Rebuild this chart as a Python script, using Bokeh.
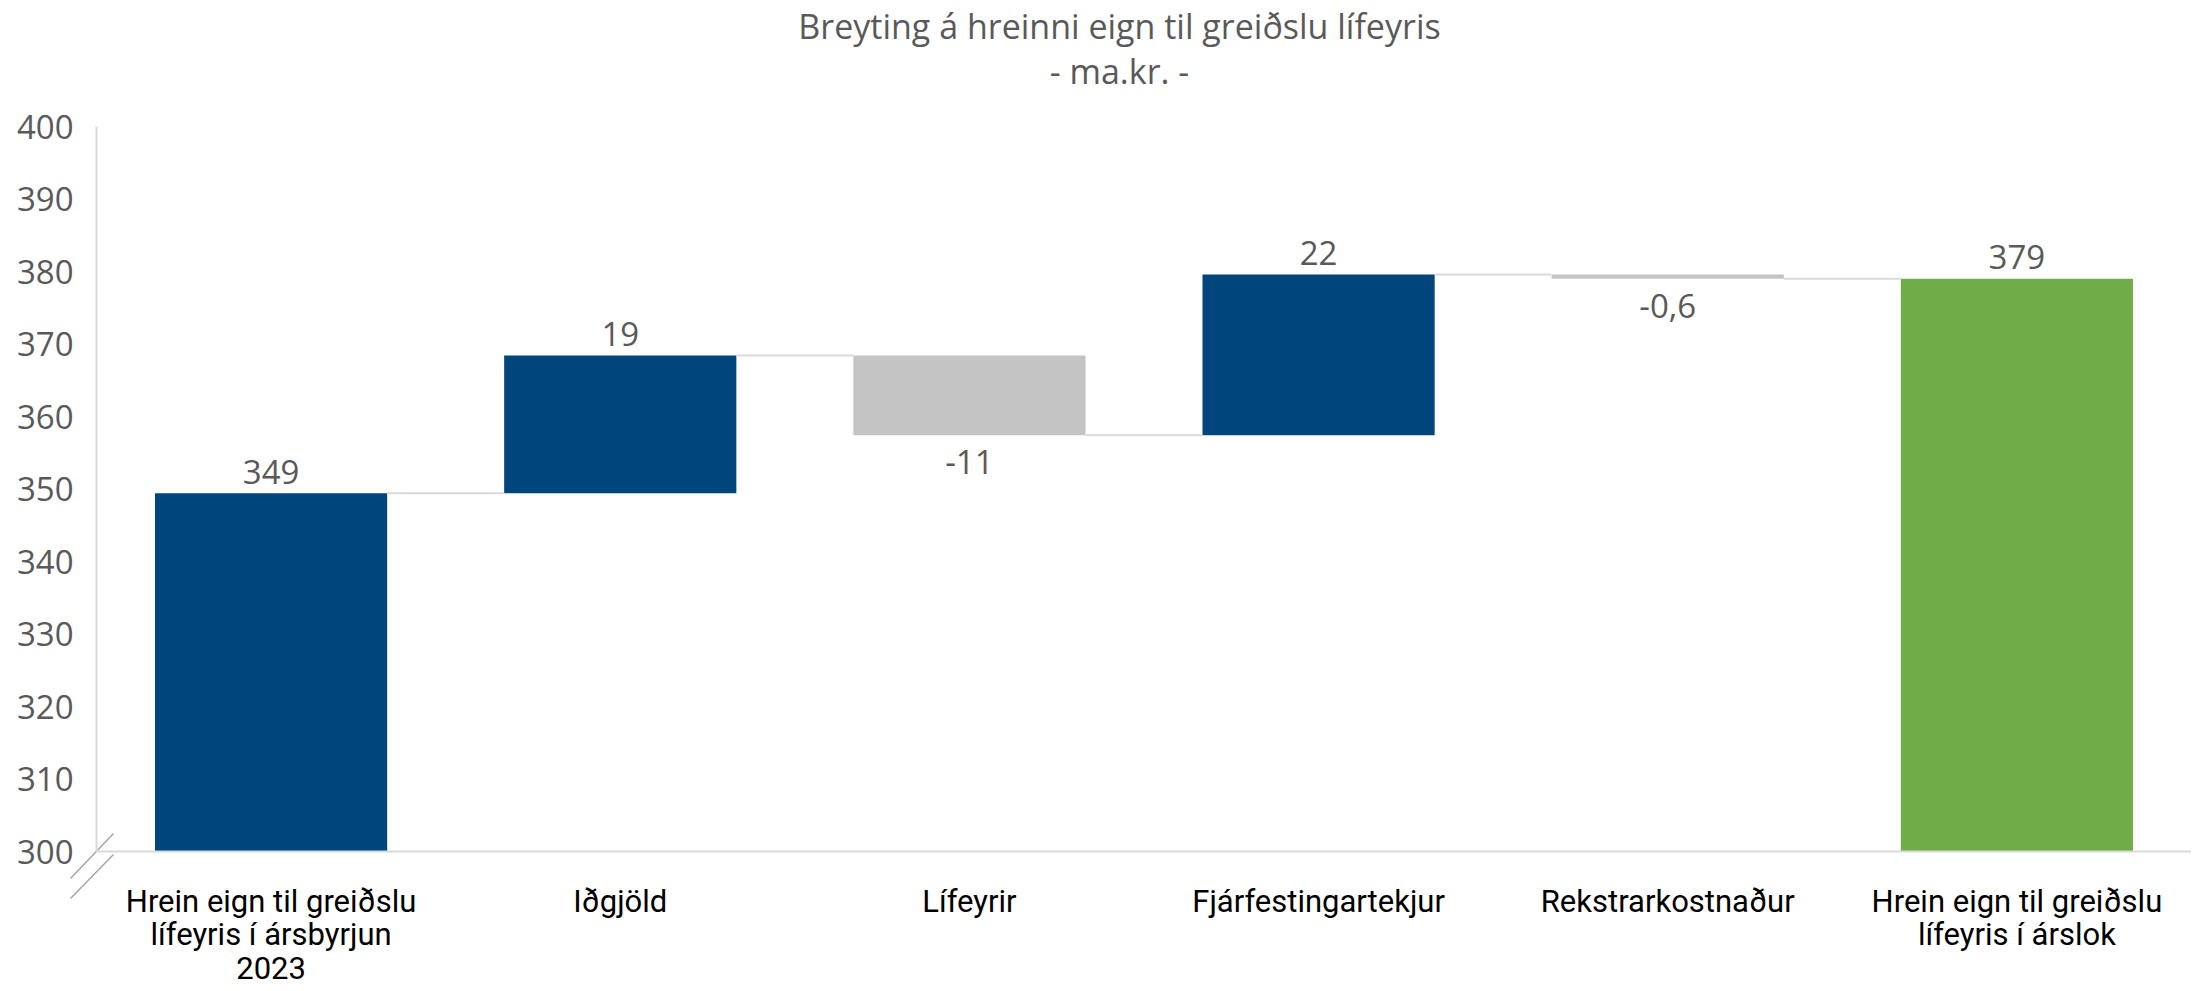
from bokeh.plotting import figure
from bokeh.models import FixedTicker, ColumnDataSource
from bokeh.core.properties import value
from bokeh.embed import file_html
from bokeh.resources import INLINE

# ---- data ----
categories = [
    "Hrein eign til greiðslu\nlífeyris í ársbyrjun\n2023",
    "Iðgjöld",
    "Lífeyrir",
    "Fjárfestingartekjur",
    "Rekstrarkostnaður",
    "Hrein eign til greiðslu\nlífeyris í árslok",
]
start_value = 349.4
changes = [19.0, -11.0, 22.2, -0.6]
end_value = 379.0
value_labels = ["349", "19", "-11", "22", "-0,6", "379"]
y_ticks = [300, 310, 320, 330, 340, 350, 360, 370, 380, 390, 400]
title_lines = ["Breyting á hreinni eign til greiðslu lífeyris", "- ma.kr. -"]

BLUE = "#00457C"
GRAY = "#C4C4C4"
GREEN = "#70AD47"
TXT = "#595959"
BAR_W = 0.665
Y0, Y1 = 300, 400

# ---- layout (pixels) ----
W, H = 2191, 991
PLOT_L, PLOT_R, PLOT_T, PLOT_B = 96, 2191, 126, 851   # axis box inside the canvas
n = len(categories)
PX_X = (PLOT_R - PLOT_L) / n
PX_Y = (PLOT_B - PLOT_T) / (Y1 - Y0)
def dx(px):  # canvas px -> data x
    return (px - PLOT_L) / PX_X
def dy(py):  # canvas px -> data y
    return Y0 + (PLOT_B - py) / PX_Y

# ---- waterfall geometry ----
xs = [i + 0.5 for i in range(n)]
bottoms, tops, colors, levels = [], [], [], []
bottoms.append(Y0); tops.append(start_value); colors.append(BLUE)
level = start_value
levels.append(level)
for c in changes:
    new = level + c
    bottoms.append(min(level, new)); tops.append(max(level, new))
    colors.append(BLUE if c >= 0 else GRAY)
    level = new
    levels.append(level)
bottoms.append(Y0); tops.append(end_value); colors.append(GREEN)

src = ColumnDataSource(dict(x=xs, bottom=bottoms, top=tops, color=colors))

p = figure(width=W, height=H, output_backend="svg", toolbar_location=None,
           x_range=(dx(0), dx(W)), y_range=(dy(H), dy(0)),
           min_border_left=0, min_border_right=0, min_border_top=0, min_border_bottom=0)
p.outline_line_color = None
p.xgrid.visible = False
p.ygrid.visible = False
p.background_fill_color = "white"
p.border_fill_color = "white"

p.vbar(x="x", bottom="bottom", top="top", width=BAR_W, color="color", source=src, line_color=None)

# connectors
cx0 = [xs[i] + BAR_W / 2 for i in range(n - 1)]
cx1 = [xs[i + 1] - BAR_W / 2 for i in range(n - 1)]
p.segment(x0=cx0, x1=cx1, y0=levels, y1=levels, line_color="#D9D9D9", line_width=2)

# value labels
lab_x, lab_y, lab_t = [], [], []
for i in range(n):
    is_neg = 0 < i < n - 1 and changes[i - 1] < 0
    lab_x.append(xs[i])
    lab_t.append(value_labels[i])
    if is_neg:
        lab_y.append(bottoms[i] - 27 / PX_Y)
    else:
        lab_y.append(tops[i] + 21.5 / PX_Y)
p.text(x=lab_x, y=lab_y, text=lab_t, text_align="center", text_baseline="middle",
       text_font=value("Open Sans"), text_font_size="33px", text_color=TXT)

# axes (placed at the axis box edges)
p.yaxis.fixed_location = 0
p.yaxis.bounds = (Y0, Y1)
p.yaxis.ticker = FixedTicker(ticks=y_ticks)
p.yaxis.axis_line_color = "#D9D9D9"
p.yaxis.axis_line_width = 2
p.yaxis.major_tick_line_color = None
p.yaxis.minor_tick_line_color = None
p.yaxis.major_label_text_font = "Open Sans"
p.yaxis.major_label_text_font_size = "33px"
p.yaxis.major_label_text_color = TXT
p.yaxis.major_label_standoff = 17

p.xaxis.fixed_location = Y0
p.xaxis.bounds = (0, n)
p.xaxis.ticker = FixedTicker(ticks=xs)
p.xaxis.major_label_overrides = {x: c for x, c in zip(xs, categories)}
p.xaxis.axis_line_color = "#D9D9D9"
p.xaxis.axis_line_width = 2
p.xaxis.major_tick_line_color = None
p.xaxis.minor_tick_line_color = None
p.xaxis.major_label_text_font = "Roboto"
p.xaxis.major_label_text_font_size = "31px"
p.xaxis.major_label_text_color = "#000000"
p.xaxis.major_label_standoff = 25
p.xaxis.major_label_text_line_height = 0.91

# axis break marks
p.segment(x0=[dx(113), dx(113)], y0=[dy(833), dy(854)], x1=[dx(70), dx(70)], y1=[dy(878), dy(898)],
          line_color="#A6A6A6", line_width=1.5)

# title
p.text(x=[dx(1119), dx(1119)], y=[dy(25), dy(70)], text=title_lines, text_align="center",
       text_baseline="middle", text_font=value("Open Sans"), text_font_size="34px", text_color=TXT)

open("out.html", "w").write(file_html(p, INLINE))
